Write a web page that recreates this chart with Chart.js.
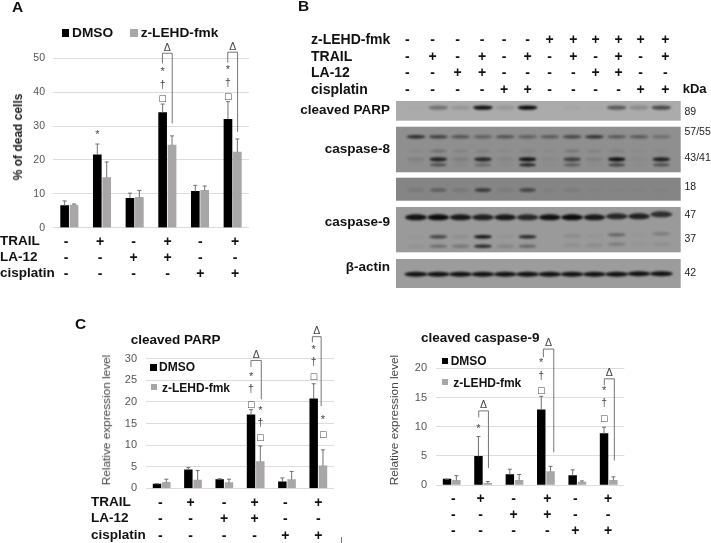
<!DOCTYPE html>
<html><head><meta charset="utf-8">
<script src="https://cdn.jsdelivr.net/npm/chart.js@4"></script>
<style>
html,body{margin:0;padding:0;background:#fff;overflow:hidden}
#stage{position:relative;width:711px;height:543px;font-family:"Liberation Sans",Arial,sans-serif;filter:blur(0.4px)}
canvas{position:absolute;left:0;top:0}
.t{position:absolute;white-space:nowrap;line-height:1;transform:translateY(-50%);color:#111}
.b{font-weight:bold}
.c{transform:translate(-50%,-50%)}
.r{transform:translate(-100%,-50%)}
.v{transform:translate(-50%,-50%) rotate(-90deg)}
</style></head><body>
<div id="stage"></div>
<script>
// ---------- data ----------
const categories = ['1','2','3','4','5','6'];
const rowNames = ['TRAIL','LA-12','cisplatin'];
const trail =    ['-','+','-','+','-','+'];
const la12 =     ['-','-','+','+','-','-'];
const cisplatin =['-','-','-','-','+','+'];

const seriesDmso = 'DMSO', seriesLehd = 'z-LEHD-fmk';

const deadDmso = [6.5,21.5,8.7,34,10.7,32];
const deadLehd = [6.7,14.8,9,24.4,11,22.3];
const deadDmsoTop = [7.9,24.7,10.2,36.5,12.5,37.2];
const deadLehdTop = [7,19.4,11,27.1,12.3,26.2];
const deadTicks = [0,10,20,30,40,50];

const parpDmso = [1,4.3,2,17,1.5,20.7];
const parpLehd = [1.4,1.9,1.3,6.2,2,5.2];
const parpDmsoTop = [1.05,4.8,2.2,18.2,2.4,24.2];
const parpLehdTop = [2.1,4.1,2.1,9.8,3.9,8.9];

const casp9Dmso = [1,4.9,1.8,12.9,1.6,8.8];
const casp9Lehd = [0.8,0.3,0.8,2.3,0.5,0.8];
const casp9DmsoTop = [1,8.3,2.7,15.2,2.6,9.9];
const casp9LehdTop = [1.6,0.6,1.8,3.2,0.7,1.4];

// significance marks: [category, series, value, symbol]
const deadMarks = [[1,0,27.7,'*'],[3,0,46.4,'*'],[3,0,42.2,'†'],[3,0,37.9,'□'],[5,0,47,'*'],[5,0,42.8,'†'],[5,0,38.5,'□']];
const parpMarks = [[3,0,26.1,'*'],[3,0,22.9,'†'],[3,0,19.3,'□'],[3,1,18.35,'*'],[3,1,15,'†'],[3,1,11.6,'□'],
                   [5,0,32.4,'*'],[5,0,29.3,'†'],[5,0,25.8,'□'],[5,1,16.2,'*'],[5,1,12.5,'□']];
const casp9Marks = [[1,0,9.8,'*'],[3,0,21.2,'*'],[3,0,18.7,'†'],[3,0,16.2,'□'],[5,0,16.4,'*'],[5,0,14,'†'],[5,0,11.4,'□']];
// brackets: [left x, right x, top, left foot, right foot] in category / value units
const deadBrackets = [[2.85,3.15,51.5,48.5,30.8],[4.85,5.15,51.8,48.7,28.3]];
const parpBrackets = [[2.85,3.18,29.6,28.1,20.6],[4.81,5.09,35.1,33.8,19]];
const casp9Brackets = [[0.86,1.17,12.7,11.6,2.9],[2.92,3.25,23.3,21.9,5.6],[4.86,5.18,18.2,17.1,4.2]];

// blot
const blotLanes = ['-','-','-','-','-','-','+','+','+','+','+','+'];
const blotTrail = ['-','+','-','+','-','+','-','+','-','+','-','+'];
const blotLa12 =  ['-','-','+','+','-','-','-','-','+','+','-','-'];
const blotCis =   ['-','-','-','-','+','+','-','-','-','-','+','+'];
const bandParp =  [.02,.35,.12,.95,.12,1,0,.03,.02,.5,.2,.6];
const bandC8Full =[.75,.6,.45,.35,.45,.35,.4,.55,.7,.4,.4,.25];
const bandC8Faint=[.05,.25,.1,.1,.05,.1,.05,.2,.1,.1,.03,.05];
const bandC8a =   [.1,.85,.12,.8,.08,.95,.05,.6,.1,.95,.05,.85];
const bandC8b =   [.03,.5,.05,.3,.03,.85,.02,.4,.04,.6,.02,.5];
const bandC8c =   [.1,.3,.1,.6,.08,.5,.03,.08,.02,.02,.02,.02];
const bandC9Full =[.95,1,.9,.85,.9,.8,.95,1,.9,.8,.85,.75];
const bandC9a =   [.02,.6,.08,.95,.05,.8,0,.1,.04,.35,.02,.2];
const bandC9b =   [.05,.3,.25,.8,.15,.35,0,.08,.1,.2,.04,.08];
const bandActin = [.95,.95,.95,.95,.95,.95,.95,.95,.95,.95,.95,.95];

const blotPanels = [
 {from:101,to:120.7,shade:'#ababab'},
 {from:126.7,to:172.3,shade:'#8f8f8f'},
 {from:177.7,to:200.7,shade:'#858585'},
 {from:207,to:252.3,shade:'#9a9a9a'},
 {from:259,to:288,shade:'#9c9c9c'}
];
const blotRows = [
 {v:bandParp,  pos:107.6,h:4.4,w:20},
 {v:bandC8Full,pos:136.7,h:3.6,w:19},
 {v:bandC8Faint,pos:151, h:3,  w:16},
 {v:bandC8a,   pos:159.3,h:4.2,w:18},
 {v:bandC8b,   pos:164.9,h:3.2,w:17},
 {v:bandC8c,   pos:190,  h:4,  w:17},
 {v:bandC9Full,pos:217.3,h:6,  w:22,tilt:[0,0,0,0,0,0,0,0,0,-1,-1,-3]},
 {v:bandC9a,   pos:236.7,h:3.6,w:18,tilt:[0,0,0,0,0,0,-1,-1,-1,-2,-2,-3]},
 {v:bandC9b,   pos:246.3,h:3.4,w:18,tilt:[0,0,0,0,0,0,-1,-1,-1,-2,-2,-2]},
 {v:bandActin, pos:274.3,h:5,  w:23,tilt:[0,0,0,0,0,0,0,0,0,0,-.5,-.5]}
];

// ---------- helpers ----------
const stage = document.getElementById('stage');
function txt(s,x,y,size,cls,color){
  const d=document.createElement('div');
  d.className='t '+(cls||'');d.textContent=s;
  d.style.left=x+'px';d.style.top=y+'px';d.style.fontSize=size+'px';
  if(color)d.style.color=color;
  stage.appendChild(d);return d;
}
function newCanvas(){
  const c=document.createElement('canvas');c.width=711;c.height=543;
  c.style.width='711px';c.style.height='543px';stage.appendChild(c);return c;
}
const annot={
  id:'annot',
  afterDatasetsDraw(chart,_,o){
    const ctx=chart.ctx,xs=chart.scales.x,ys=chart.scales.y;
    ctx.save();
    o.tops.forEach((tops,ds)=>{
      const meta=chart.getDatasetMeta(ds);
      tops.forEach((t,i)=>{
        const el=meta.data[i],y=ys.getPixelForValue(t);
        ctx.strokeStyle='#707070';ctx.lineWidth=1;
        ctx.beginPath();ctx.moveTo(el.x,el.y);ctx.lineTo(el.x,y);
        ctx.moveTo(el.x-2,y);ctx.lineTo(el.x+2,y);ctx.stroke();
      });
    });
    ctx.fillStyle='#444';ctx.textAlign='center';ctx.textBaseline='middle';
    o.marks.forEach(([c,s,v,sym])=>{
      const el=chart.getDatasetMeta(s).data[c],y=ys.getPixelForValue(v);
      if(sym==='□'){
        ctx.font='8.5px "DejaVu Sans"';ctx.fillText(sym,el.x,y);
      }else if(sym==='*'){
        ctx.font='11px "Liberation Sans"';ctx.fillText(sym,el.x,y+1.5);
      }else{
        ctx.font='10.5px "Liberation Sans"';ctx.fillText(sym,el.x,y);
      }
    });
    ctx.strokeStyle='#666';ctx.lineWidth=0.9;
    o.brackets.forEach(([a,b,top,lf,rf])=>{
      const xa=xs.getPixelForValue(a),xb=xs.getPixelForValue(b),yt=ys.getPixelForValue(top);
      ctx.beginPath();
      ctx.moveTo(xa,ys.getPixelForValue(lf));ctx.lineTo(xa,yt);ctx.lineTo(xb,yt);ctx.lineTo(xb,ys.getPixelForValue(rf));
      ctx.stroke();
      ctx.font='10.5px "Liberation Sans"';
      ctx.fillText('Δ',(xa+xb)/2,yt-5.5);
    });
    ctx.restore();
  }
};
function bars(o){
  new Chart(newCanvas(),{
    type:'bar',
    data:{labels:categories,datasets:[
      {label:seriesDmso,data:o.a,backgroundColor:'#000',barThickness:o.chunk,maxBarThickness:o.bar},
      {label:seriesLehd,data:o.b,backgroundColor:'#a8a6a6',barThickness:o.chunk,maxBarThickness:o.bar}]},
    options:{
      responsive:false,animation:false,
      layout:{padding:{left:o.left-30,right:711-o.right,top:o.top,bottom:543-o.bottom}},
      plugins:{legend:{display:false},title:{display:false},tooltip:{enabled:false},
        annot:{tops:[o.aTop,o.bTop],marks:o.marks,brackets:o.brackets}},
      scales:{
        x:{display:false,offset:true,grid:{display:false}},
        y:{min:0,max:o.max,
           afterFit(s){s.width=30},
           border:{display:false},
           grid:{color:'#dcdcdc',lineWidth:1,drawTicks:false},
           ticks:{stepSize:o.step,autoSkip:false,padding:o.tickPad,color:'#555',
                  font:{family:'"Liberation Sans"',size:o.tickSize}}}
      }
    },
    plugins:[annot]
  });
}

// ---------- bar charts ----------
bars({a:deadDmso,b:deadLehd,aTop:deadDmsoTop,bTop:deadLehdTop,marks:deadMarks,brackets:deadBrackets,
      left:53,right:249,top:58.3,bottom:227.7,max:deadTicks[5],step:10,chunk:9.4,bar:8,tickPad:8,tickSize:10.5});
bars({a:parpDmso,b:parpLehd,aTop:parpDmsoTop,bTop:parpLehdTop,marks:parpMarks,brackets:parpBrackets,
      left:146,right:334,top:358.7,bottom:488.3,max:30,step:5,chunk:9.3,bar:7.8,tickPad:9,tickSize:11});
bars({a:casp9Dmso,b:casp9Lehd,aTop:casp9DmsoTop,bTop:casp9LehdTop,marks:casp9Marks,brackets:casp9Brackets,
      left:436,right:624.4,top:368.3,bottom:485,max:20,step:5,chunk:9.3,bar:7.8,tickPad:9,tickSize:11});

// ---------- blot ----------
const blotPlugin={
  id:'blot',
  beforeDatasetsDraw(chart){
    const ctx=chart.ctx,xs=chart.scales.x,ys=chart.scales.y;
    ctx.save();
    blotPanels.forEach(p=>{
      ctx.fillStyle=p.shade;
      const y0=ys.getPixelForValue(p.from),y1=ys.getPixelForValue(p.to);
      ctx.fillRect(chart.chartArea.left,y0,chart.chartArea.width,y1-y0);
    });
    ctx.filter='blur(1px)';
    blotRows.forEach((r,k)=>{
      chart.getDatasetMeta(k).data.forEach((pt,i)=>{
        ctx.fillStyle='rgba(10,10,10,'+r.v[i]+')';
        ctx.beginPath();
        ctx.ellipse(pt.x,pt.y,r.w/2,r.h/2,0,0,Math.PI*2);
        ctx.fill();
      });
    });
    ctx.restore();
  }
};
new Chart(newCanvas(),{
  type:'scatter',
  data:{datasets:blotRows.map(r=>({data:r.v.map((_,i)=>({x:i,y:r.pos+(r.tilt?r.tilt[i]:0)})),pointRadius:0}))},
  options:{responsive:false,animation:false,
    layout:{padding:{left:396,right:30.3,top:0,bottom:0}},
    plugins:{legend:{display:false},tooltip:{enabled:false}},
    scales:{
      x:{display:false,type:'linear',min:-0.897,max:11.87},
      y:{display:false,type:'linear',min:0,max:543,reverse:true}
    }},
  plugins:[blotPlugin]
});

// ---------- text ----------
txt('A',12,7,15.5,'b');txt('B',298,6,15.5,'b');txt('C',75,324,15.5,'b');

function plusMinus(rowsY,xs,labelX,withLabels){
  [trail,la12,cisplatin].forEach((row,r)=>{
    if(withLabels)txt(rowNames[r],labelX,rowsY[r],13.5,'b');
    row.forEach((s,i)=>txt(s,xs[i],rowsY[r],s==='+'?14:14,'b c'));
  });
}
plusMinus([240.7,257.3,273.3],[66,100,133.7,167.7,200.3,235],0,true);
plusMinus([501.7,518.3,535],[160.3,190.7,224,254.7,285.3,318.3],91,true);
plusMinus([497.7,514.3,530.3],[453.3,480.7,513.7,547.3,575.3,608],0,false);

function legend(k1,t1,k2,t2,size){
  [k1,k2].forEach((k,i)=>{
    const d=document.createElement('div');
    d.style.cssText='position:absolute;left:'+k[0]+'px;top:'+k[1]+'px;width:'+k[2]+'px;height:'+k[2]+'px;background:'+(i?'#a8a6a6':'#000');
    stage.appendChild(d);
  });
  txt(seriesDmso,t1[0],t1[1],size,'b');txt(seriesLehd,t2[0],t2[1],size,'b');
}
legend([61.7,29,7.5],[72,33.3],[130,29,7.5],[140.7,33.3],13.7);
legend([150,364.3,6.7],[159,367.3],[151,384,6],[162,388],12);
legend([441.7,357.7,6.7],[450.7,360.7],[441.7,379,6],[453.3,382.7],12);

txt('% of dead cells',18,137,12,'b v','#222');
txt('Relative expression level',106.7,419.5,11.8,'v','#444');
txt('Relative expression level',395,420,11.8,'v','#444');
txt('cleaved PARP',130.7,340,13.5,'b');
txt('cleaved caspase-9',421,338,13.5,'b');

const blotX=[407.3,432.7,457.7,482,504,527.7,549.7,573.3,595.7,618.7,640.7,665.3];
[['z-LEHD-fmk',39,blotLanes],['TRAIL',55.7,blotTrail],['LA-12',71.7,blotLa12],['cisplatin',89,blotCis]].forEach(([n,y,row])=>{
  txt(n,311,y,14,'b');
  row.forEach((s,i)=>txt(s,blotX[i],y,14,'b c'));
});
txt('kDa',682.7,88,13,'b');
[['cleaved PARP',110],['caspase-8',149.3],['caspase-9',221.7],['β-actin',266.7]].forEach(([s,y])=>txt(s,390,y,13.5,'b r'));
[['89',110.7],['57/55',131],['43/41',157.3],['18',185.7],['47',214],['37',238],['42',272.3]].forEach(([s,y])=>txt(s,684.5,y,10.5,'','#222'));

const tick=document.createElement('div');
tick.style.cssText='position:absolute;left:341px;top:537px;width:1px;height:6px;background:#777';
stage.appendChild(tick);
</script>
</body></html>
